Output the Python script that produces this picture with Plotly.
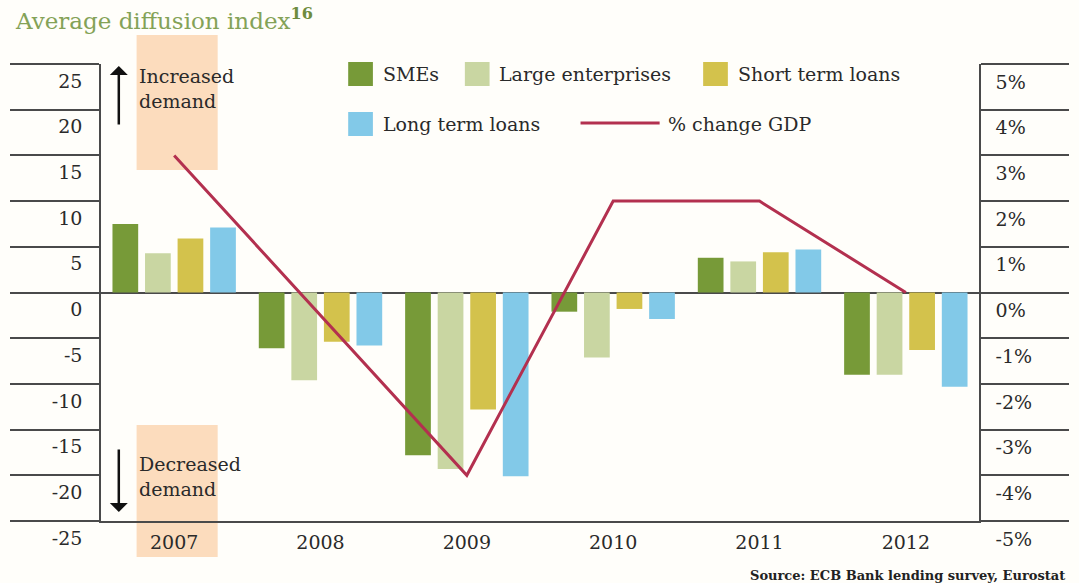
import plotly.graph_objects as go

# ---------------- data ----------------
years = ["2007", "2008", "2009", "2010", "2011", "2012"]
series_names = ["SMEs", "Large enterprises", "Short term loans", "Long term loans"]
smes = [7.5, -6.1, -17.8, -2.1, 3.8, -9.0]
large_ent = [4.3, -9.6, -19.3, -7.1, 3.4, -9.0]
short_loans = [5.9, -5.4, -12.8, -1.8, 4.4, -6.3]
long_loans = [7.1, -5.8, -20.1, -2.9, 4.7, -10.3]
gdp_name = "% change GDP"
gdp_change = [3.0, -0.5, -4.0, 2.0, 2.0, 0.0]

left_ticks = [25, 20, 15, 10, 5, 0, -5, -10, -15, -20, -25]
left_ticktext = ["25", "20", "15", "10", "5", "0", "-5", "-10", "-15", "-20", "-25"]
right_ticks = [5, 4, 3, 2, 1, 0, -1, -2, -3, -4, -5]
right_ticktext = ["5%", "4%", "3%", "2%", "1%", "0%", "-1%", "-2%", "-3%", "-4%", "-5%"]

title_text = "Average diffusion index"
title_sup = "16"
source_text = "Source: ECB Bank lending survey, Eurostat"

# ---------------- styles ----------------
bar_colors = ["#779a38", "#c9d6a2", "#d3c24c", "#82c9e8"]
gdp_color = "#b3304f"
axis_color = "#4a4a4a"
text_color = "#2a2a2a"
peach = "#fcdcbd"
bg = "#fffefa"
FONT = "DejaVu Serif"

W, H = 1079, 583
L, R, T, B = 97, 94, 64, 62
PW, PH = W - L - R, H - T - B


def px(x):
    return (x - L) / PW


def py(y):
    return (H - B - y) / PH


fig = go.Figure()
series_vals = [smes, large_ent, short_loans, long_loans]
for name, vals, col in zip(series_names, series_vals, bar_colors):
    fig.add_trace(go.Bar(x=years, y=vals, name=name, marker=dict(color=col, line=dict(width=0)),
                         showlegend=False))

fig.add_trace(go.Scatter(x=years, y=gdp_change, yaxis="y2", mode="lines", name=gdp_name,
                         line=dict(color=gdp_color, width=3), showlegend=False))

shapes = []
annotations = []

# peach highlight boxes around 2007
shapes.append(dict(type="rect", xref="paper", yref="paper", x0=px(133), x1=px(215),
                   y0=py(170), y1=py(35), fillcolor=peach, line=dict(width=0), layer="below"))
shapes.append(dict(type="rect", xref="paper", yref="paper", x0=px(133), x1=px(215),
                   y0=py(557), y1=py(425), fillcolor=peach, line=dict(width=0), layer="below"))

# arrows
annotations.append(dict(xref="paper", yref="paper", x=px(115), y=py(66), ax=0, ay=60,
                        showarrow=True, arrowhead=1, arrowsize=1.2, arrowwidth=2.5,
                        arrowcolor="#111111", text=""))
annotations.append(dict(xref="paper", yref="paper", x=px(115), y=py(512), ax=0, ay=-64,
                        showarrow=True, arrowhead=1, arrowsize=1.2, arrowwidth=2.5,
                        arrowcolor="#111111", text=""))
annotations.append(dict(xref="paper", yref="paper", x=px(133), y=py(89), xanchor="left",
                        yanchor="middle", align="left", showarrow=False,
                        text="Increased<br>demand", font=dict(family=FONT, size=19, color=text_color)))
annotations.append(dict(xref="paper", yref="paper", x=px(133), y=py(476), xanchor="left",
                        yanchor="middle", align="left", showarrow=False,
                        text="Decreased<br>demand", font=dict(family=FONT, size=19, color=text_color)))

# manual legend
leg_pos = [(347, 74), (465, 74), (706, 74), (347, 124)]
for name, col, (lx, ly) in zip(series_names, bar_colors, leg_pos):
    shapes.append(dict(type="rect", xref="paper", yref="paper", x0=px(lx), x1=px(lx + 25),
                       y0=py(ly + 12), y1=py(ly - 12), fillcolor=col, line=dict(width=0)))
    annotations.append(dict(xref="paper", yref="paper", x=px(lx + 33), y=py(ly), xanchor="left",
                            yanchor="middle", showarrow=False, text=name,
                            font=dict(family=FONT, size=19, color=text_color)))
shapes.append(dict(type="line", xref="paper", yref="paper", x0=px(582), x1=px(662),
                   y0=py(123), y1=py(123), line=dict(color=gdp_color, width=3)))
annotations.append(dict(xref="paper", yref="paper", x=px(668), y=py(124), xanchor="left",
                        yanchor="middle", showarrow=False, text=gdp_name,
                        font=dict(family=FONT, size=19, color=text_color)))

# title
annotations.append(dict(xref="paper", yref="paper", x=px(8), y=py(19), xanchor="left",
                        yanchor="middle", showarrow=False,
                        text=f"{title_text}<sup><b><span style='color:#6e8c3e'>{title_sup}</span></b></sup>",
                        font=dict(family=FONT, size=23, color="#84a257")))
# source
annotations.append(dict(xref="paper", yref="paper", x=px(1074), y=py(575), xanchor="right",
                        yanchor="middle", showarrow=False, text=f"<b>{source_text}</b>",
                        font=dict(family=FONT, size=13, color="#222222")))

fig.update_layout(
    width=W, height=H,
    margin=dict(l=L, r=R, t=T, b=B, pad=0),
    paper_bgcolor=bg, plot_bgcolor=bg,
    barmode="group", bargap=0.11, bargroupgap=0.21,
    showlegend=False,
    font=dict(family=FONT, size=19, color=text_color),
    shapes=shapes, annotations=annotations,
    xaxis=dict(type="category", showgrid=False, showline=True, linecolor=axis_color, linewidth=1.5,
               ticks="", tickfont=dict(family=FONT, size=19, color=text_color),
               ticklabelstandoff=3, zeroline=False),
    yaxis=dict(range=[-25, 25], tickvals=left_ticks, ticktext=left_ticktext,
               showgrid=False, showline=True, linecolor=axis_color, linewidth=1.5,
               ticks="outside", ticklen=89, tickwidth=1.5, tickcolor=axis_color,
               ticklabelshift=17, ticklabelstandoff=-76,
               zeroline=True, zerolinecolor=axis_color, zerolinewidth=1.5,
               tickfont=dict(family=FONT, size=19, color=text_color)),
    yaxis2=dict(range=[-5, 5], overlaying="y", side="right", tickvals=right_ticks,
                ticktext=right_ticktext, showgrid=False, showline=True, linecolor=axis_color,
                linewidth=1.5, ticks="outside", ticklen=88, tickwidth=1.5, tickcolor=axis_color,
                ticklabelshift=18, ticklabelstandoff=-77, zeroline=False,
                tickfont=dict(family=FONT, size=19, color=text_color)),
)

fig.write_html("out.html")
